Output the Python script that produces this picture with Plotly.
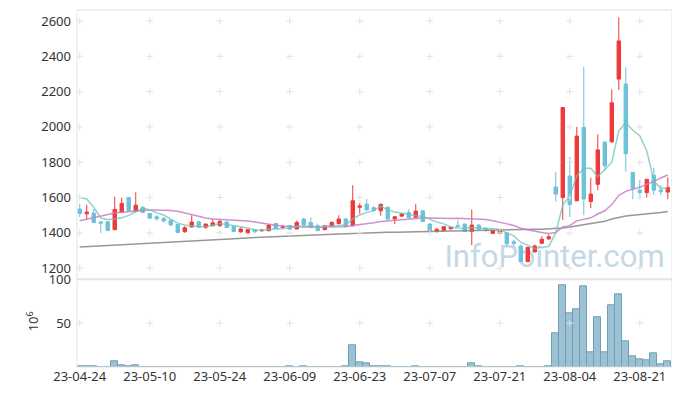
import plotly.graph_objects as go
import pandas as pd

# ---------------- data ----------------
holidays = ["2023-05-01", "2023-05-05", "2023-05-29", "2023-06-06", "2023-08-15"]
dates = [d.strftime("%Y-%m-%d") for d in pd.bdate_range("2023-04-24", "2023-08-25")
         if d.strftime("%Y-%m-%d") not in holidays]

opens = [1535, 1508, 1512, 1462, 1463, 1418, 1516, 1600, 1523, 1544,
         1510, 1491, 1482, 1470, 1447, 1407, 1433, 1463, 1432, 1440,
         1442, 1462, 1436, 1406, 1400, 1418, 1412, 1412, 1453, 1431,
         1440, 1422, 1478, 1459, 1440, 1418, 1436, 1453, 1478, 1440,
         1545, 1563, 1542, 1525, 1545, 1478, 1495, 1515, 1488, 1525,
         1450, 1407, 1413, 1423, 1442, 1450, 1407, 1444, 1426, 1397,
         1397, 1400, 1350, 1325, 1237, 1292, 1341, 1366, 1660, 1600,
         1722, 1582, 1998, 1578, 1675, 1914, 1916, 2271, 2243, 1743,
         1642, 1628, 1727, 1642, 1631]
highs = [1565, 1560, 1535, 1462, 1465, 1605, 1600, 1602, 1630, 1552,
         1512, 1500, 1490, 1475, 1450, 1438, 1500, 1465, 1452, 1478,
         1480, 1463, 1438, 1430, 1420, 1420, 1422, 1448, 1456, 1445,
         1442, 1470, 1485, 1488, 1452, 1442, 1466, 1500, 1485, 1670,
         1568, 1592, 1550, 1565, 1548, 1495, 1512, 1535, 1563, 1527,
         1452, 1428, 1437, 1435, 1472, 1452, 1533, 1450, 1430, 1414,
         1412, 1402, 1362, 1335, 1320, 1335, 1380, 1392, 1745, 2112,
         1830, 2000, 2340, 1712, 1958, 1920, 2213, 2620, 2338, 1745,
         1700, 1705, 1769, 1670, 1714]
lows = [1490, 1475, 1455, 1398, 1410, 1415, 1514, 1525, 1520, 1512,
        1478, 1470, 1460, 1435, 1400, 1400, 1430, 1430, 1422, 1438,
        1432, 1428, 1405, 1400, 1398, 1398, 1405, 1410, 1420, 1425,
        1418, 1420, 1442, 1428, 1408, 1416, 1434, 1448, 1433, 1438,
        1508, 1527, 1520, 1497, 1476, 1450, 1490, 1484, 1486, 1462,
        1410, 1402, 1410, 1420, 1432, 1405, 1330, 1418, 1405, 1395,
        1395, 1322, 1322, 1235, 1235, 1290, 1338, 1358, 1576, 1473,
        1490, 1578, 1500, 1540, 1642, 1750, 1910, 2209, 1747, 1590,
        1596, 1600, 1614, 1614, 1590]
closes = [1510, 1518, 1458, 1455, 1413, 1533, 1567, 1527, 1557, 1516,
          1483, 1480, 1467, 1445, 1402, 1429, 1461, 1432, 1450, 1457,
          1465, 1430, 1407, 1422, 1418, 1406, 1415, 1444, 1424, 1436,
          1421, 1459, 1445, 1430, 1413, 1440, 1459, 1478, 1436, 1582,
          1552, 1530, 1528, 1562, 1478, 1491, 1506, 1486, 1523, 1464,
          1413, 1420, 1435, 1432, 1438, 1407, 1444, 1420, 1416, 1412,
          1410, 1338, 1340, 1237, 1318, 1325, 1364, 1378, 1620, 2110,
          1560, 1948, 1592, 1620, 1870, 1780, 2137, 2487, 1848, 1652,
          1628, 1703, 1642, 1634, 1657]
ma5 = [1600, 1592, 1545, 1484, 1476, 1478, 1485, 1499, 1519, 1540,
       1530, 1513, 1501, 1478, 1455, 1445, 1441, 1434, 1435, 1446,
       1453, 1447, 1442, 1436, 1428, 1417, 1414, 1421, 1421, 1425,
       1428, 1437, 1437, 1438, 1434, 1437, 1437, 1444, 1445, 1479,
       1501, 1516, 1526, 1551, 1530, 1518, 1513, 1505, 1497, 1494,
       1478, 1461, 1451, 1433, 1428, 1426, 1431, 1428, 1425, 1420,
       1420, 1399, 1383, 1347, 1329, 1312, 1317, 1324, 1401, 1559,
       1606, 1723, 1766, 1766, 1718, 1762, 1800, 1979, 2024, 1981,
       1950, 1864, 1695, 1652, 1653]
ma20 = [1469, 1478, 1488, 1497, 1505, 1512, 1517, 1521, 1525, 1528,
        1529, 1529, 1529, 1527, 1522, 1513, 1502, 1491, 1484, 1478,
        1476, 1471, 1469, 1467, 1467, 1461, 1454, 1449, 1443, 1439,
        1436, 1435, 1433, 1433, 1433, 1434, 1434, 1436, 1435, 1442,
        1446, 1451, 1457, 1464, 1467, 1471, 1476, 1478, 1483, 1484,
        1484, 1482, 1481, 1481, 1483, 1481, 1480, 1477, 1476, 1468,
        1461, 1451, 1442, 1426, 1418, 1409, 1402, 1397, 1402, 1434,
        1441, 1468, 1476, 1485, 1507, 1525, 1560, 1613, 1635, 1647,
        1658, 1676, 1691, 1711, 1728]
ma_long = [1320, 1322, 1324, 1326, 1329, 1331, 1333, 1335, 1337, 1339,
           1341, 1344, 1346, 1348, 1350, 1352, 1354, 1356, 1359, 1361,
           1363, 1365, 1367, 1369, 1371, 1374, 1376, 1378, 1380, 1381,
           1383, 1385, 1386, 1388, 1389, 1391, 1392, 1394, 1395, 1397,
           1398, 1399, 1400, 1402, 1403, 1404, 1405, 1406, 1408, 1409,
           1410, 1411, 1411, 1412, 1413, 1413, 1414, 1415, 1416, 1417,
           1418, 1419, 1419, 1420, 1420, 1421, 1421, 1422, 1423, 1428,
           1433, 1439, 1445, 1451, 1457, 1466, 1478, 1489, 1496, 1500,
           1503, 1507, 1511, 1516, 1521]
volumes = [0.8, 0.8, 0.8, 0.1, 0.1, 6.5, 1.5, 0.5, 1.5, 0.1,
           0.1, 0.1, 0.1, 0.1, 0.1, 0.1, 0.1, 0.1, 0.1, 0.1,
           0.1, 0.1, 0.1, 0.1, 0.1, 0.1, 0.1, 0.1, 0.1, 0.1,
           0.5, 0.1, 0.5, 0.1, 0.1, 0.1, 0.1, 0.1, 0.5, 24.7,
           5.4, 3.9, 1.0, 1.0, 1.0, 0.1, 0.1, 0.1, 0.8, 0.1,
           0.1, 0.1, 0.1, 0.1, 0.1, 0.1, 3.9, 0.8, 0.1, 0.1,
           0.1, 0.1, 0.1, 0.8, 0.1, 0.1, 0.1, 0.8, 38.5, 93.0,
           60.8, 66.2, 91.6, 17.0, 57.0, 17.0, 70.0, 82.7, 29.6, 12.3,
           8.9, 7.7, 15.8, 3.1, 6.5]

tick_dates = [dates[i] for i in range(0, len(dates), 10)]
tick_labels = [d[2:] for d in tick_dates]
price_ticks = [1200, 1400, 1600, 1800, 2000, 2200, 2400, 2600]
vol_ticks = [50, 100]

# ---------------- style ----------------
RED = "#ee3a3a"
BLUE = "#6cc3d9"
GRID = "#e2e2e2"
AXIS = "#e3e3e3"
FONT = "Noto Sans"
TXT = "#333333"
PRICE_DOM = [0.253, 1.0]
VOL_DOM = [0.0, 0.2457]

fig = go.Figure()

fig.add_trace(go.Candlestick(
    x=dates, open=opens, high=highs, low=lows, close=closes,
    xaxis="x", yaxis="y", whiskerwidth=0, showlegend=False, hoverinfo="skip",
    increasing=dict(line=dict(color=RED, width=1), fillcolor=RED),
    decreasing=dict(line=dict(color=BLUE, width=1), fillcolor=BLUE)))

fig.add_trace(go.Scatter(x=dates, y=ma_long, mode="lines", xaxis="x", yaxis="y",
                         line=dict(color="rgba(140,140,140,0.9)", width=1.5),
                         showlegend=False, hoverinfo="skip"))
fig.add_trace(go.Scatter(x=dates, y=ma20, mode="lines", xaxis="x", yaxis="y",
                         line=dict(color="rgba(200,125,200,0.85)", width=1.5),
                         showlegend=False, hoverinfo="skip"))
fig.add_trace(go.Scatter(x=dates, y=ma5, mode="lines", xaxis="x", yaxis="y",
                         line=dict(color="rgba(110,195,180,0.75)", width=1.5),
                         showlegend=False, hoverinfo="skip"))

fig.add_trace(go.Bar(x=dates, y=volumes, xaxis="x", yaxis="y2", showlegend=False,
                     hoverinfo="skip",
                     marker=dict(color="rgba(150,190,208,0.95)",
                                 line=dict(color="#6e9fb9", width=1))))

# grid "+" marks at tick intersections
fig.add_trace(go.Scatter(
    x=[d for d in tick_dates for _ in price_ticks],
    y=[p for _ in tick_dates for p in price_ticks],
    mode="markers", xaxis="x", yaxis="y", hoverinfo="skip", showlegend=False,
    marker=dict(symbol="cross-thin", size=5, line=dict(width=1, color=GRID))))
fig.add_trace(go.Scatter(
    x=tick_dates, y=[50] * len(tick_dates),
    mode="markers", xaxis="x", yaxis="y2", hoverinfo="skip", showlegend=False,
    marker=dict(symbol="cross-thin", size=5, line=dict(width=1, color=GRID))))

# page body has an 8px margin: size the figure so the plot lands where the reference has it
fig.update_layout(
    width=672, height=388,
    margin=dict(l=69, r=8, t=2, b=29, autoexpand=False),
    paper_bgcolor="white", plot_bgcolor="white",
    font=dict(family=FONT, size=13, color=TXT),
    bargap=0,
    xaxis=dict(type="category", categoryorder="array", categoryarray=dates,
               anchor="y2", domain=[0, 1],
               range=[-0.39, len(dates) - 0.4],
               tickmode="array", tickvals=tick_dates, ticktext=tick_labels,
               tickangle=0,
               showgrid=False, zeroline=False, showline=False, ticks="",
               rangeslider=dict(visible=False), tickfont=dict(size=13, color=TXT)),
    yaxis=dict(domain=PRICE_DOM, anchor="x", range=[1151.8, 2662.3],
               tickmode="array", tickvals=price_ticks,
               showgrid=False, zeroline=False, showline=False, ticks="",
               ticklabelstandoff=5, tickfont=dict(size=13, color=TXT)),
    yaxis2=dict(domain=VOL_DOM, anchor="x", range=[0, 100],
                tickmode="array", tickvals=vol_ticks,
                showgrid=False, zeroline=False, showline=False, ticks="",
                ticklabelstandoff=5, tickfont=dict(size=13, color=TXT)),
    shapes=[
        dict(type="rect", xref="paper", yref="paper", x0=0.70, x1=0.905, y0=0.27, y1=0.36,
             line=dict(width=0), fillcolor="rgba(0,0,0,0)", layer="below",
             label=dict(text="InfoPointer.com", textposition="middle center",
                        font=dict(family="Roboto", size=31, color="#c4d9e5"))),
        dict(type="line", xref="paper", yref="paper", x0=0, x1=1, y0=1, y1=1,
             line=dict(color=AXIS, width=1)),
        dict(type="line", xref="paper", yref="paper", x0=0, x1=0, y0=0, y1=1,
             line=dict(color=AXIS, width=1)),
        dict(type="line", xref="paper", yref="paper", x0=1, x1=1, y0=0, y1=1,
             line=dict(color=AXIS, width=1)),
        dict(type="line", xref="paper", yref="paper", x0=0, x1=1, y0=VOL_DOM[1], y1=VOL_DOM[1],
             line=dict(color=AXIS, width=2)),
        dict(type="line", xref="paper", yref="paper", x0=0, x1=1, y0=0, y1=0,
             line=dict(color=AXIS, width=1)),
    ],
    annotations=[
        dict(text="10<sup>6</sup>", xref="paper", yref="paper", x=-0.0756, y=0.128,
             xanchor="center", yanchor="middle", textangle=-90, showarrow=False,
             font=dict(size=13, color=TXT)),
    ],
)

fig.write_html("out.html")
